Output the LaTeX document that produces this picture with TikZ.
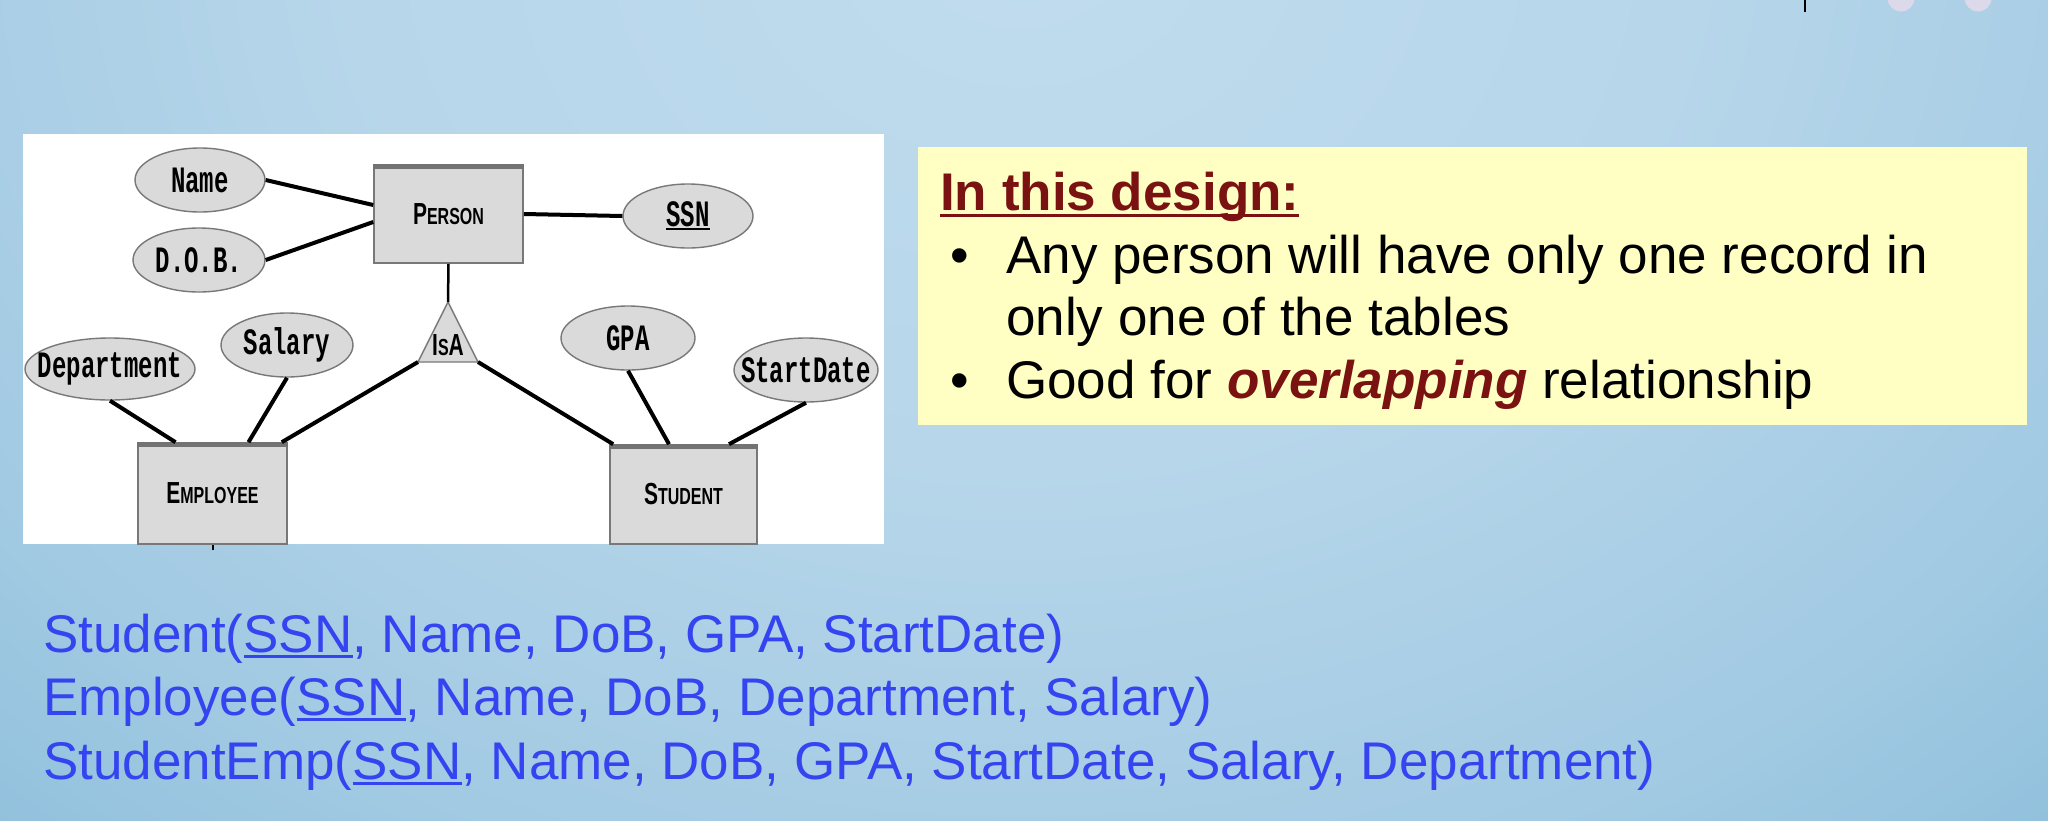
\documentclass[tikz,border=0pt]{standalone}
\usepackage{graphicx}
\usepackage{fontspec}
\setmainfont{Liberation Sans}
\newfontfamily\ermono{Liberation Mono}
\usetikzlibrary{shapes.geometric}

\definecolor{bgA}{RGB}{192,220,238}
\definecolor{bgB}{RGB}{183,214,234}
\definecolor{bgC}{RGB}{162,202,227}
\definecolor{bgD}{RGB}{128,183,214}
\definecolor{bgE}{RGB}{108,168,208}
\definecolor{bgF}{RGB}{100,160,200}
\definecolor{bgG}{RGB}{96,156,196}
\definecolor{relblue}{RGB}{52,68,240}
\definecolor{notered}{RGB}{122,18,18}
\definecolor{noteyellow}{RGB}{255,255,196}
\definecolor{erfill}{RGB}{218,218,218}
\definecolor{erline}{RGB}{120,120,120}
\definecolor{erstrip}{RGB}{115,115,115}
\definecolor{dotlav}{RGB}{220,218,234}

\pgfdeclareradialshading{bgshade}{\pgfpoint{0bp}{0bp}}{%
  color(0bp)=(bgA); color(12bp)=(bgB); color(22bp)=(bgC);
  color(33bp)=(bgD); color(40bp)=(bgE); color(47bp)=(bgF); color(50bp)=(bgG)}

% underline a piece of text: #1 = rule offset, #2 = rule thickness
\newcommand\ulbox[3]{\setbox0\hbox{#3}\rlap{\rule[#1]{\wd0}{#2}}\box0}
% typewriter attribute labels, drawn tall; zero width so the ellipse keeps its size
\newcommand\tallmono[1]{\makebox[0pt]{\scalebox{1}[1.55]{\ermono\bfseries\fontsize{24}{24}\selectfont #1}}}
% entity labels in fake small caps
\newcommand\capbig[1]{{\fontsize{21}{21}\selectfont #1}}
\newcommand\capsmall[1]{{\fontsize{16}{16}\selectfont #1}}
\newcommand\entlabel[1]{\scalebox{1}[1.45]{\bfseries #1}}

\tikzset{
  attr/.style={ellipse, fill=erfill, draw=erline, line width=1.4pt, inner sep=0pt},
  entity/.style={rectangle, fill=erfill, draw=erline, line width=1.6pt, inner sep=0pt},
  strip/.style={line width=5pt, erstrip},
  link/.style={line width=4pt, black},
  slidetext/.style={anchor=base west, inner sep=0pt, font=\fontsize{53}{63}\selectfont},
}

\begin{document}
\begin{tikzpicture}[x=1pt, y=-1pt]
\useasboundingbox (0,0) rectangle (2048,820);

% slide background
\begin{scope}
  \clip (0,0) rectangle (2048,820);
  \shade[shading=bgshade] (-380,-1160) rectangle (2420,1040);
  \fill[dotlav] (1901,-2) circle (13.5);
  \fill[dotlav] (1978,-2) circle (13.5);
  \draw[line width=1.5pt, black] (1805,0) -- (1805,12);
\end{scope}

% ER diagram panel
\fill[white] (23,134) rectangle (884,544);

\node[entity, minimum width=149pt, minimum height=98pt] (person) at (448.5,214)
  {\entlabel{\capbig{P}\capsmall{ERSON}}};
\draw[strip] ([yshift=-2.5pt]person.north west) -- ([yshift=-2.5pt]person.north east);

\node[entity, minimum width=149pt, minimum height=101pt] (employee) at (212.5,493.5)
  {\entlabel{\capbig{E}\capsmall{MPLOYEE}}};
\draw[strip] ([yshift=-2.5pt]employee.north west) -- ([yshift=-2.5pt]employee.north east);

\node[entity, minimum width=147pt, minimum height=99pt] (student) at (683.5,494.5)
  {\entlabel{\capbig{S}\capsmall{TUDENT}}};
\draw[strip] ([yshift=-2.5pt]student.north west) -- ([yshift=-2.5pt]student.north east);

\node[attr, minimum width=130pt, minimum height=64pt] (name) at (200,180) {\tallmono{Name}};
\node[attr, minimum width=132pt, minimum height=64pt] (dob) at (199,260) {\tallmono{D.O.B.}};
\node[attr, minimum width=130pt, minimum height=64pt] (ssn) at (688,216)
  {\tallmono{\ulbox{-2.5pt}{1.6pt}{SSN}}};
\node[attr, minimum width=170pt, minimum height=62pt] (dept) at (110,369) {\tallmono{Department}};
\node[attr, minimum width=132pt, minimum height=64pt] (salary) at (287,345) {\tallmono{Salary}};
\node[attr, minimum width=134pt, minimum height=64pt] (gpa) at (628,338) {\tallmono{GPA}};
\node[attr, minimum width=144pt, minimum height=64pt] (start) at (806,370) {\tallmono{StartDate}};

% IsA triangle
\coordinate (isaT) at (448,302);
\coordinate (isaL) at (418,362);
\coordinate (isaR) at (478,362);
\filldraw[fill=erfill, draw=erline, line width=1.4pt] (isaT) -- (isaL) -- (isaR) -- cycle;
\node[inner sep=0pt] (isa) at (448,345) {\entlabel{\capbig{I}\capsmall{S}\capbig{A}}};

% connectors
\draw[link] (name.east) -- ([yshift=9pt]person.west);
\draw[link] (dob.east) -- ([yshift=-8pt]person.west);
\draw[link] (person.east) -- (ssn.west);
\draw[line width=2.5pt] (person.south) -- (isaT);
\draw[link] (isaL) -- ([xshift=-6pt]employee.north east);
\draw[link] (isaR) -- ([xshift=4pt]student.north west);
\draw[link] (dept.south) -- ([xshift=-37pt]employee.north);
\draw[link] (salary.south) -- ([xshift=36pt]employee.north);
\draw[link] (gpa.south) -- ([xshift=-14.5pt]student.north);
\draw[link] (start.south) -- ([xshift=45.5pt]student.north);
\coordinate (emptail) at ([yshift=-5pt]employee.south);
\draw[line width=2pt] (employee.south) -- (emptail);

% note box
\fill[noteyellow] (918,147) rectangle (2027,425);
\node[slidetext, text=notered] (head) at (940,210)
  {\bfseries\ulbox{-7pt}{3.5pt}{In this design:}};
\node[slidetext] (b1) at (950,273) {\textbullet};
\node[slidetext] (t1) at (1006,273) {Any person will have only one record in};
\node[slidetext] (t1b) at (1006,335) {only one of the tables};
\node[slidetext] (b2) at (950,398) {\textbullet};
\node[slidetext] (t2) at (1006,398)
  {Good for {\bfseries\itshape\color{notered}overlapping} relationship};

% relational schemas
\node[slidetext, text=relblue] (rel1) at (43,652)
  {Student(\ulbox{-6pt}{3pt}{SSN}, Name, DoB, GPA, StartDate)};
\node[slidetext, text=relblue] (rel2) at (43,715)
  {Employee(\ulbox{-6pt}{3pt}{SSN}, Name, DoB, Department, Salary)};
\node[slidetext, text=relblue] (rel3) at (43,779)
  {StudentEmp(\ulbox{-6pt}{3pt}{SSN}, Name, DoB, GPA, StartDate, Salary, Department)};
\end{tikzpicture}
\end{document}
